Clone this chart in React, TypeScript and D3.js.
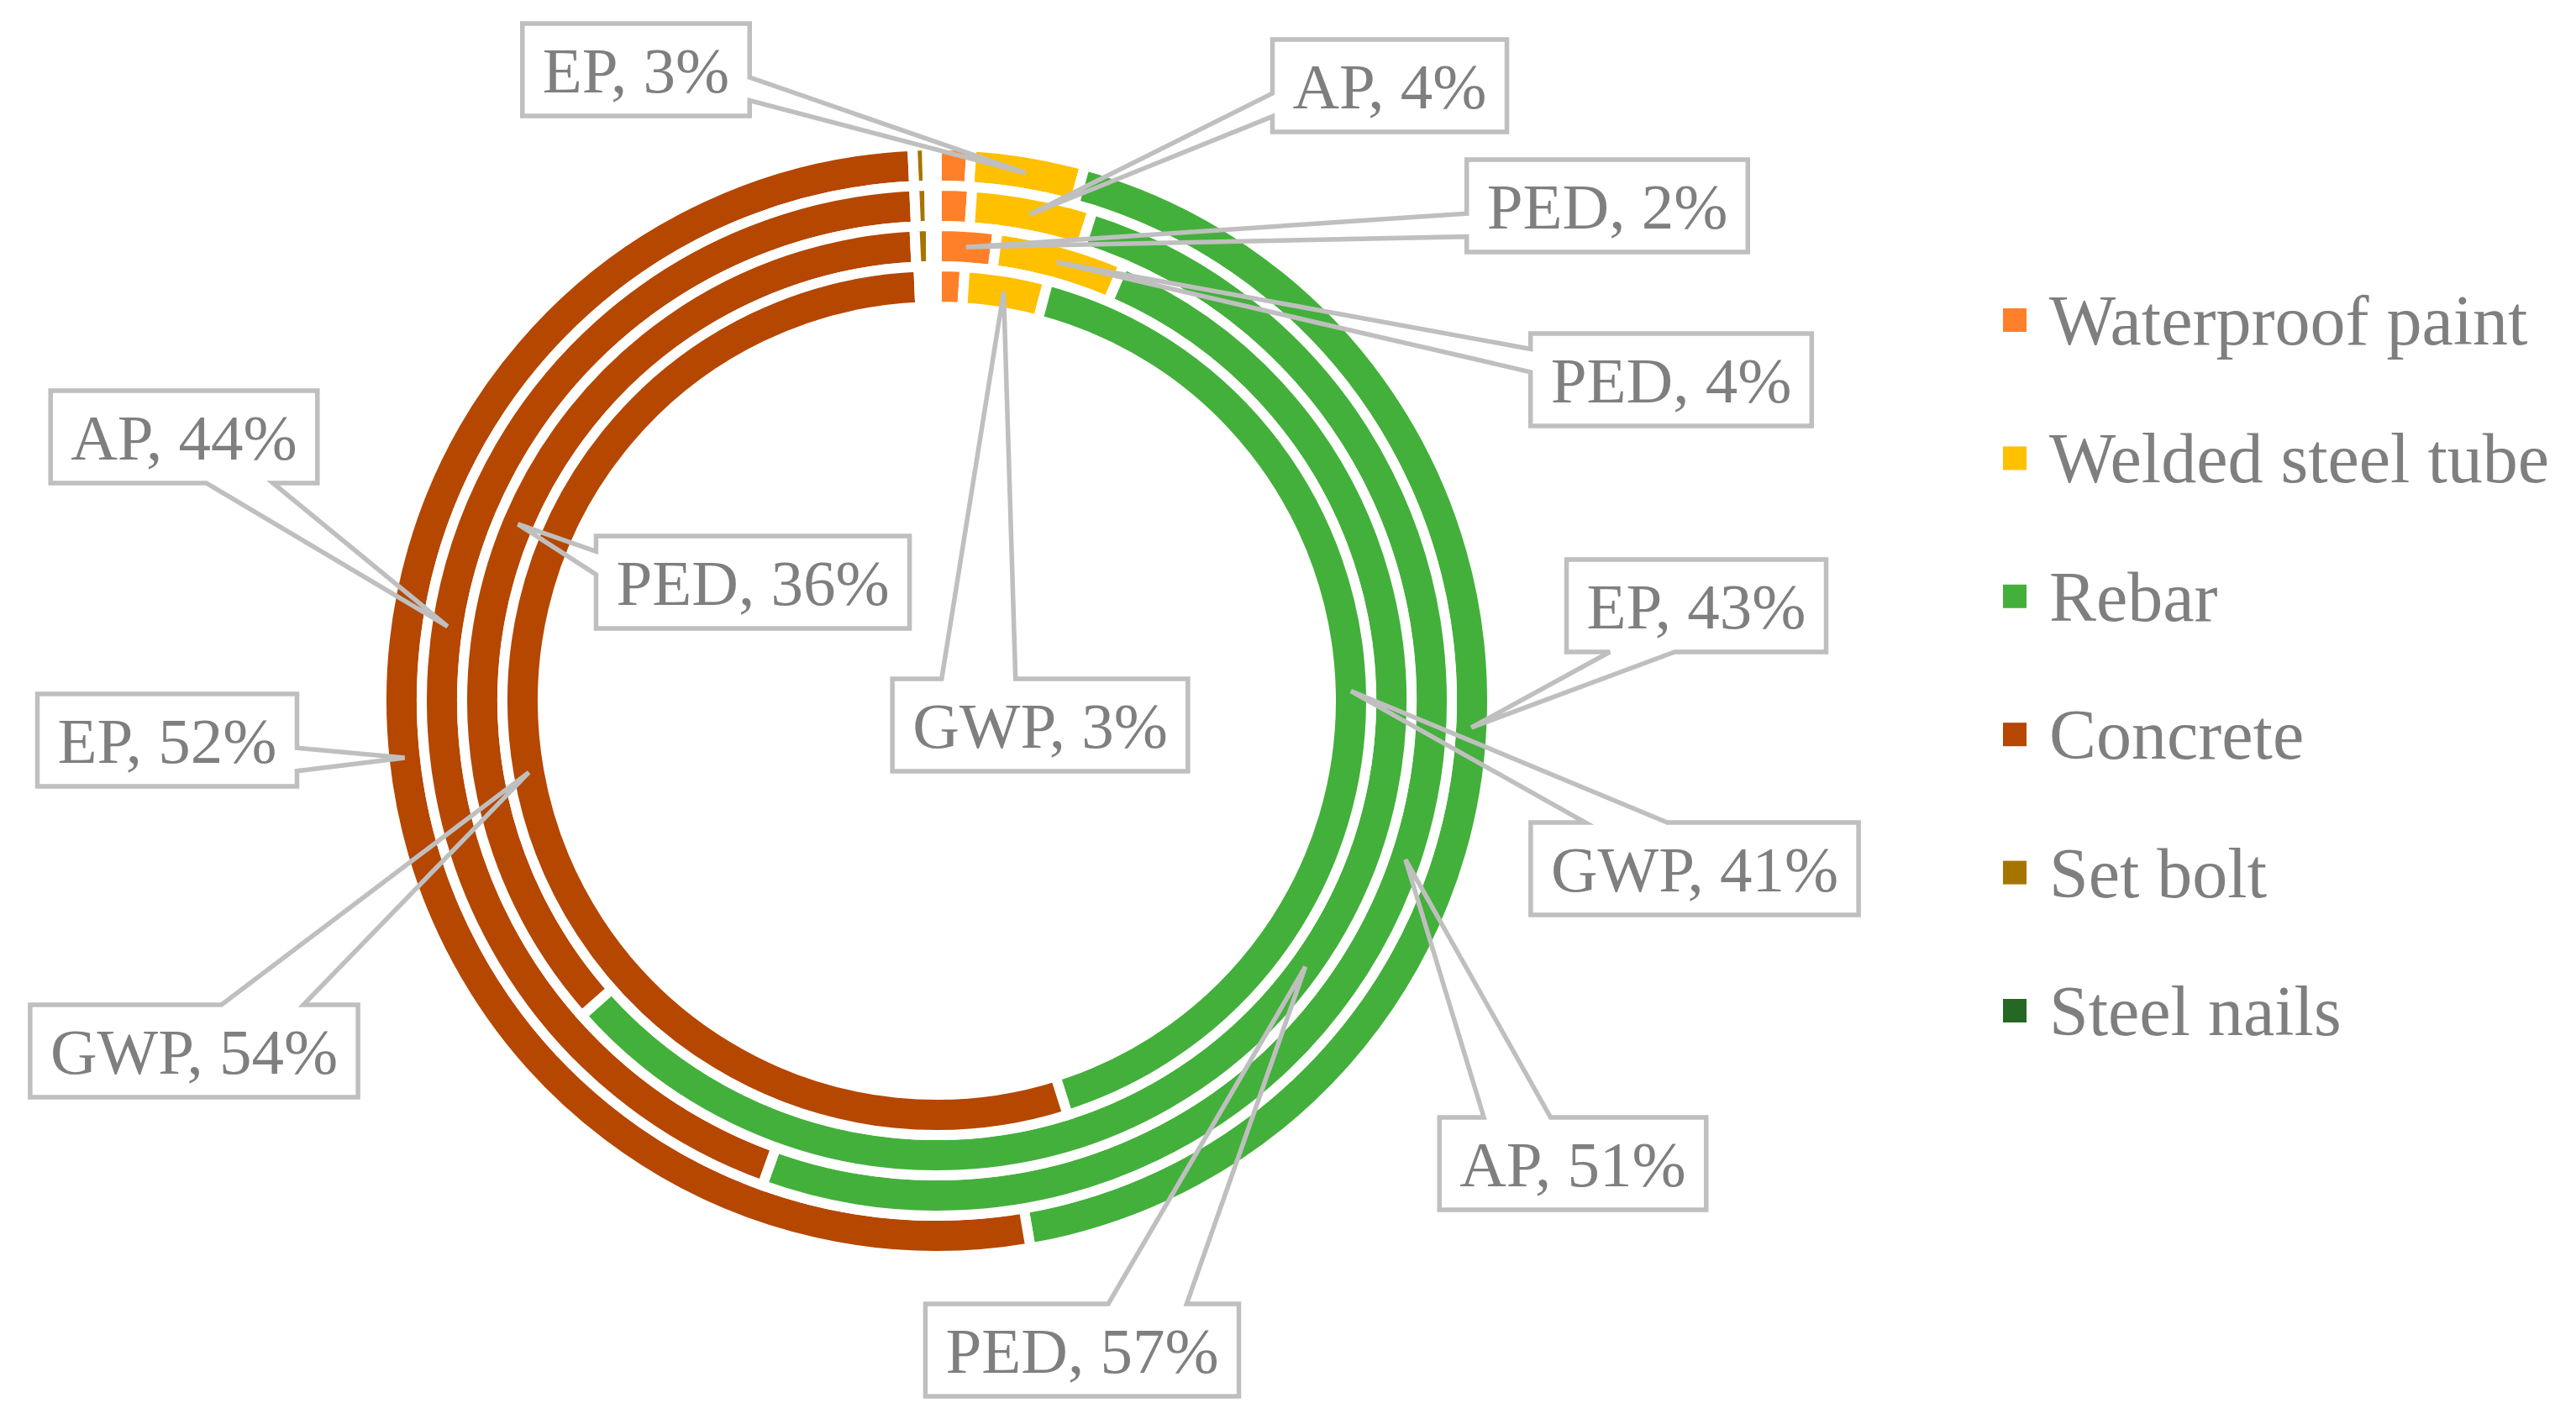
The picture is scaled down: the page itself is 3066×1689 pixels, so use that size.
import { useEffect, useRef } from 'react';
import * as d3 from 'd3';

const WIDTH = 3066;
const HEIGHT = 1689;

// materials, clockwise from 12 o'clock
const materials = ['Waterproof paint', 'Welded steel tube', 'Rebar', 'Concrete', 'Set bolt', 'Steel nails'];
const colors = ['#FF8028', '#FFC000', '#43B03B', '#B54700', '#A67500', '#246824'];

// rings, outer to inner (share of each material, %)
const indicators = ['EP', 'AP', 'PED', 'GWP'];
const epShares = [1.0, 3.3, 43.0, 52.0, 0.42, 0.28];
const apShares = [1.1, 3.8, 50.6, 43.8, 0.47, 0.23];
const pedShares = [2.05, 4.4, 57.0, 35.8, 0.55, 0.2];
const gwpShares = [1.03, 3.1, 41.0, 54.2, 0.3, 0.37];
const shares = [epShares, apShares, pedShares, gwpShares];

// which slices get a callout, and where the box sits (box centre)
const calloutRing = ['EP', 'AP', 'PED', 'PED', 'AP', 'PED', 'EP', 'GWP', 'EP', 'GWP', 'GWP', 'AP', 'PED'];
const calloutItem = [
  'Welded steel tube', 'Welded steel tube', 'Waterproof paint', 'Welded steel tube', 'Concrete', 'Concrete',
  'Rebar', 'Welded steel tube', 'Concrete', 'Rebar', 'Concrete', 'Rebar', 'Rebar',
];
const calloutBoxX = [757, 1654, 1913, 1989, 219, 896, 2019, 1238, 199, 2017, 231, 1872, 1288];
const calloutBoxY = [83, 102, 245, 452, 520, 693, 721, 863, 881, 1034, 1251, 1385, 1607];

// excel style wedgeRectCallout outline
function calloutPath(l: number, t: number, w: number, h: number, tx: number, ty: number) {
  const r = l + w;
  const b = t + h;
  const dxPos = tx - (l + w / 2);
  const dyPos = ty - (t + h / 2);
  const dq = (dxPos * h) / w;
  const vertical = Math.abs(dyPos) - Math.abs(dq) > 0;
  const x1 = l + (w * (dxPos > 0 ? 7 : 2)) / 12;
  const x2 = l + (w * (dxPos > 0 ? 10 : 5)) / 12;
  const y1 = t + (h * (dyPos > 0 ? 7 : 2)) / 12;
  const y2 = t + (h * (dyPos > 0 ? 10 : 5)) / 12;
  if (vertical) {
    if (dyPos < 0) return `M${l},${t}L${x1},${t}L${tx},${ty}L${x2},${t}L${r},${t}L${r},${b}L${l},${b}Z`;
    return `M${l},${t}L${r},${t}L${r},${b}L${x2},${b}L${tx},${ty}L${x1},${b}L${l},${b}Z`;
  }
  if (dxPos < 0) return `M${l},${t}L${r},${t}L${r},${b}L${l},${b}L${l},${y2}L${tx},${ty}L${l},${y1}Z`;
  return `M${l},${t}L${r},${t}L${r},${y1}L${tx},${ty}L${r},${y2}L${r},${b}L${l},${b}Z`;
}

export default function App() {
  const svgRef = useRef<SVGSVGElement>(null);

  useEffect(() => {
    if (!svgRef.current) return;
    document.body.style.margin = '0';

    const svg = d3.select(svgRef.current);
    svg.selectAll('*').remove();

    const cx = 1115;
    const cy = 834;
    const outerR = 661;
    const band = 48;
    const font = '"Liberation Serif", "Times New Roman", serif';
    const textColor = '#7F7F7F';
    const lineColor = '#BFBFBF';

    const pie = d3
      .pie<number>()
      .sort(null)
      .value(d => d)
      .startAngle(0)
      .endAngle(2 * Math.PI);

    const chart = svg.append('g').attr('transform', `translate(${cx},${cy})`);

    const ringArcs = shares.map((vals, i) => {
      const arc = d3
        .arc<d3.PieArcDatum<number>>()
        .innerRadius(outerR - (i + 1) * band)
        .outerRadius(outerR - i * band);
      const slices = pie(vals);
      chart
        .append('g')
        .selectAll('path')
        .data(slices)
        .join('path')
        .attr('d', arc)
        .attr('fill', (_, j) => colors[j])
        .attr('stroke', '#fff')
        .attr('stroke-width', 12);
      return { arc, slices, total: d3.sum(vals) };
    });

    // callouts
    const labels = svg.append('g');
    calloutRing.forEach((ringName, k) => {
      const ri = indicators.indexOf(ringName);
      const mi = materials.indexOf(calloutItem[k]);
      const { arc, slices, total } = ringArcs[ri];
      const [px, py] = arc.centroid(slices[mi]);
      const tx = cx + px;
      const ty = cy + py;
      const pct = Math.round((shares[ri][mi] / total) * 100);

      const g = labels.append('g');
      const rect = g.append('rect').attr('fill', '#fff');
      const outline = g
        .append('path')
        .attr('fill', 'none')
        .attr('stroke', lineColor)
        .attr('stroke-width', 5.5)
        .attr('stroke-linejoin', 'miter');
      const text = g
        .append('text')
        .attr('x', calloutBoxX[k])
        .attr('y', calloutBoxY[k] + 27)
        .attr('text-anchor', 'middle')
        .attr('font-family', font)
        .attr('font-size', 77)
        .attr('fill', textColor)
        .text(`${ringName}, ${pct}%`);

      const tw = (text.node() as SVGTextElement).getComputedTextLength();
      const w = tw + 48;
      const h = 110;
      const l = calloutBoxX[k] - w / 2;
      const t = calloutBoxY[k] - h / 2;
      rect.attr('x', l).attr('y', t).attr('width', w).attr('height', h);
      outline.attr('d', calloutPath(l, t, w, h, tx, ty));
    });

    // legend
    const legendY = d3
      .scalePoint<string>()
      .domain(materials)
      .range([381, 1203]);
    const legend = svg.append('g');
    materials.forEach((m, i) => {
      const y = legendY(m) ?? 0;
      legend
        .append('rect')
        .attr('x', 2384)
        .attr('y', y - 14)
        .attr('width', 28)
        .attr('height', 28)
        .attr('fill', colors[i]);
      legend
        .append('text')
        .attr('x', 2439)
        .attr('y', y + 29)
        .attr('font-family', font)
        .attr('font-size', 84)
        .attr('fill', textColor)
        .text(m);
    });
  }, []);

  return (
    <svg
      ref={svgRef}
      width={WIDTH}
      height={HEIGHT}
      style={{ display: 'block', background: '#fff' }}
    ></svg>
  );
}
